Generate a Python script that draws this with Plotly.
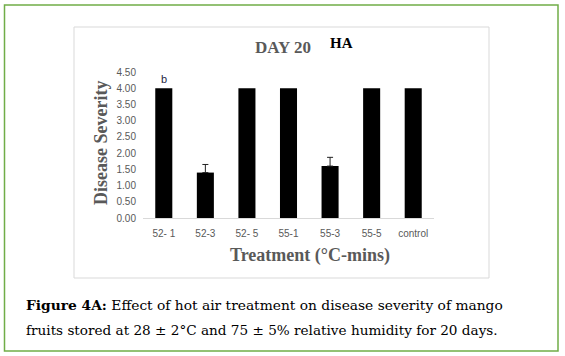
import plotly.graph_objects as go

categories = ["52- 1", "52-3", "52- 5", "55-1", "55-3", "55-5", "control"]
severity = [4.0, 1.40, 4.0, 4.0, 1.60, 4.0, 4.0]
error_up = [None, 0.25, None, None, 0.27, None, None]
tick_vals = [0, 0.5, 1.0, 1.5, 2.0, 2.5, 3.0, 3.5, 4.0, 4.5]
tick_text = ["%.2f" % v for v in tick_vals]

W, H = 565, 356
L, R, T, B = 143, 434, 72, 218  # plot area pixel box

fig = go.Figure()
fig.add_trace(go.Bar(
    x=categories, y=severity, width=0.41,
    marker=dict(color="black", line=dict(width=0)),
    showlegend=False, hoverinfo="skip",
))
# error bars only where an error value exists
err_idx = [i for i, e in enumerate(error_up) if e is not None]
fig.add_trace(go.Scatter(
    x=[categories[i] for i in err_idx], y=[severity[i] for i in err_idx],
    mode="markers", marker=dict(size=0.1, color="rgba(0,0,0,0)"),
    error_y=dict(type="data", symmetric=False, array=[error_up[i] for i in err_idx],
                 arrayminus=[0] * len(err_idx), color="#222222", thickness=1, width=3),
    showlegend=False, hoverinfo="skip",
))

grey = "#595959"
fig.update_layout(
    width=W, height=H,
    margin=dict(l=0, r=0, t=0, b=0),
    paper_bgcolor="white", plot_bgcolor="white",
    xaxis=dict(type="category", showline=True, linecolor="#d9d9d9", linewidth=1,
               domain=[L / W, R / W], automargin=False,
               showgrid=False, ticks="", tickfont=dict(family="Liberation Sans", size=10, color=grey),
               ticklabelstandoff=6, fixedrange=True),
    yaxis=dict(range=[0, 4.5], tickvals=tick_vals, ticktext=tick_text, showgrid=False,
               domain=[1 - B / H, 1 - T / H], automargin=False,
               zeroline=False, showline=False, ticks="",
               tickfont=dict(family="Liberation Sans", size=10, color=grey),
               ticklabelstandoff=6, fixedrange=True),
)

def px_x(x):
    return x / W

def px_y(y):
    return 1 - y / H

shapes = [
    dict(type="rect", xref="paper", yref="paper", x0=px_x(4.5), x1=px_x(558), y0=px_y(5), y1=px_y(351),
         line=dict(color="#70ad47", width=1.5), fillcolor="rgba(0,0,0,0)", layer="below"),
    dict(type="rect", xref="paper", yref="paper", x0=px_x(74), x1=px_x(489), y0=px_y(27), y1=px_y(278),
         line=dict(color="#d9d9d9", width=1), fillcolor="rgba(0,0,0,0)", layer="below"),
]
fig.update_layout(shapes=shapes)

ann = [
    dict(text="DAY 20", x=px_x(283), y=px_y(47), font=dict(family="Liberation Serif", size=17, color=grey)),
    dict(text="HA", x=px_x(341), y=px_y(43), font=dict(family="Liberation Serif", size=15, color="black")),
    dict(text="Treatment (°C-mins)", x=px_x(310), y=px_y(255),
         font=dict(family="Liberation Serif", size=18, color=grey)),
    dict(text="Disease Severity", x=px_x(101), y=px_y(143), textangle=-90,
         font=dict(family="Liberation Serif", size=18, color=grey)),
]
anns = []
for a in ann:
    a = dict(a)
    a["text"] = "<b>" + a["text"] + "</b>"
    a.update(xref="paper", yref="paper", showarrow=False, xanchor="center", yanchor="middle")
    anns.append(a)

anns.append(dict(text="b", x=categories[0], y=4.0, xref="x", yref="y", yshift=9, showarrow=False,
                 xanchor="center", yanchor="middle",
                 font=dict(family="Liberation Sans", size=11, color="#1f1f3f")))

anns.append(dict(text="<b>Figure 4A:</b> Effect of hot air treatment on disease severity of mango",
                 x=px_x(24), y=px_y(305), xref="paper", yref="paper", showarrow=False,
                 xanchor="left", yanchor="middle",
                 font=dict(family="DejaVu Serif", size=13.8, color="black")))
anns.append(dict(text="fruits stored at 28 ± 2°C and 75 ± 5% relative humidity for 20 days.",
                 x=px_x(24), y=px_y(330), xref="paper", yref="paper", showarrow=False,
                 xanchor="left", yanchor="middle",
                 font=dict(family="DejaVu Serif", size=13.6, color="black")))
fig.update_layout(annotations=anns)

fig.write_html("out.html", config={"displayModeBar": False, "staticPlot": True},
               post_script="document.body.style.margin='0px';")
